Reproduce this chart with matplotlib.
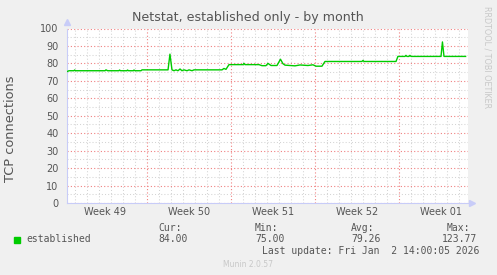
import numpy as np
import matplotlib.pyplot as plt

# time in days from left edge of the graph, value in connections
days = [0.00, 0.17, 0.58, 0.63, 0.71, 3.17, 3.25, 3.38, 4.33, 4.38, 4.46,
        5.00, 5.04, 5.13, 5.54, 5.58, 5.67, 6.17, 6.25, 8.42, 8.58, 8.75,
        8.92, 9.08, 9.25, 9.42, 9.58, 9.75, 10.00, 10.17, 10.42, 10.58,
        12.92, 13.08, 13.25, 13.50, 14.67, 14.75, 14.83, 16.00, 16.25,
        16.58, 16.75, 17.00, 17.50, 17.79, 18.00, 18.17, 19.00, 19.42,
        20.08, 20.50, 20.75, 21.25, 21.50, 24.58, 24.67, 24.75, 27.42,
        27.58, 28.17, 28.25, 28.33, 28.50, 28.58, 28.67, 31.17, 31.29,
        31.42, 33.22]
established = [75.3, 75.8, 75.8, 76.2, 75.8, 75.8, 76.3, 75.8, 75.8, 76.2,
               75.8, 75.8, 76.2, 75.8, 75.8, 76.2, 75.8, 75.8, 76.3, 76.3,
               85.3, 76.3, 75.8, 76.3, 75.8, 76.8, 75.8, 76.3, 75.8, 76.3,
               75.8, 76.3, 76.3, 77.1, 76.6, 79.3, 79.3, 80.0, 79.3, 79.3,
               78.7, 78.7, 80.0, 78.8, 78.8, 82.4, 79.8, 79.0, 78.6, 79.1,
               78.8, 79.2, 78.4, 78.4, 81.1, 81.1, 81.7, 81.1, 81.1, 84.0,
               84.0, 84.6, 84.0, 84.0, 84.6, 84.0, 84.0, 92.3, 84.0, 84.0]

week_labels = ["Week 49", "Week 50", "Week 51", "Week 52", "Week 01"]
week_starts = [6.64, 13.64, 20.64, 27.64]
legend_name = "established"
stats = [("Cur:", "84.00"), ("Min:", "75.00"), ("Avg:", "79.26"), ("Max:", "123.77")]
last_update = "Last update: Fri Jan  2 14:00:05 2026"

W, H = 497, 275
txt = '#555555'


def fx(px):
    return px / W


def fy(py):
    return 1 - py / H


fig = plt.figure(figsize=(W / 100, H / 100), dpi=100, facecolor='#F0F0F0')
ax = fig.add_axes([fx(67), fy(203), 401 / W, 174.5 / H])
ax.set_facecolor('white')
ax.set_xlim(0, 33.42)
ax.set_ylim(0, 100)

# grid: daily / 5 minor (grey), weekly / 10 major (red)
day_lines = [d for d in np.arange(0.64, 33.4, 1.0)
             if min(abs(d - w) for w in week_starts) > 0.1]
ax.set_xticks(week_starts)
ax.set_xticks(day_lines, minor=True)
ax.set_yticks(np.arange(0, 101, 10))
ax.set_yticks(np.arange(5, 100, 10), minor=True)
ax.grid(which='minor', color='#D4D4D4', linestyle=(0, (1, 2)), linewidth=0.75)
ax.grid(which='major', color='#F08080', linestyle=(0, (1, 2)), linewidth=0.8)
ax.set_xticklabels([])
ax.tick_params(axis='x', which='both', length=0)
ax.tick_params(axis='y', which='both', length=0, pad=6, labelsize=7, labelcolor=txt)
ax.set_axisbelow(True)

for s in ['top', 'right']:
    ax.spines[s].set_visible(False)
for s in ['left', 'bottom']:
    ax.spines[s].set_color('#C8CCF8')
    ax.spines[s].set_linewidth(0.8)
ax.plot([0], [1.035], marker='^', color='#C8CCF8', markersize=4,
        transform=ax.transAxes, clip_on=False)
ax.plot([1.01], [0], marker='>', color='#C8CCF8', markersize=4,
        transform=ax.transAxes, clip_on=False)

ax.plot(days, established, color='#00CC00', linewidth=1.0, zorder=3)

for i, lab in enumerate(week_labels):
    ax.text(3.14 + 7 * i, -0.052, lab, transform=ax.get_xaxis_transform(),
            ha='center', va='center', fontsize=7, color=txt)

fig.text(fx(248.3), fy(18), "Netstat, established only - by month",
         ha='center', va='center', fontsize=9.1, color=txt)
fig.text(fx(10.5), fy(129), "TCP connections", rotation=90,
         ha='center', va='center', fontsize=9.3, color=txt)
fig.text(fx(487), fy(57.5), "RRDTOOL / TOBI OETIKER", rotation=270,
         ha='center', va='center', fontsize=5.8, color='#C8C8C8')

# legend block
fig.patches.append(plt.Rectangle((fx(14), fy(242.5)), 6 / W, 6 / H,
                                 transform=fig.transFigure, color='#00CC00'))
mono = dict(family='DejaVu Sans Mono', fontsize=7, color=txt, va='center')
fig.text(fx(26), fy(239.5), legend_name, **mono)
for x0, (head, val) in zip([158, 255, 351, 442], stats):
    hx = x0 + 5 if head == "Max:" else x0
    fig.text(fx(hx), fy(228), head, **mono)
    fig.text(fx(x0), fy(239.5), val, **mono)
fig.text(fx(262), fy(251.5), last_update, **mono)
fig.text(fx(223), fy(264.5), "Munin 2.0.57", fontsize=5.5, color='#C8C8C8',
         va='center')

fig.savefig('out.png', dpi=100, facecolor=fig.get_facecolor())
